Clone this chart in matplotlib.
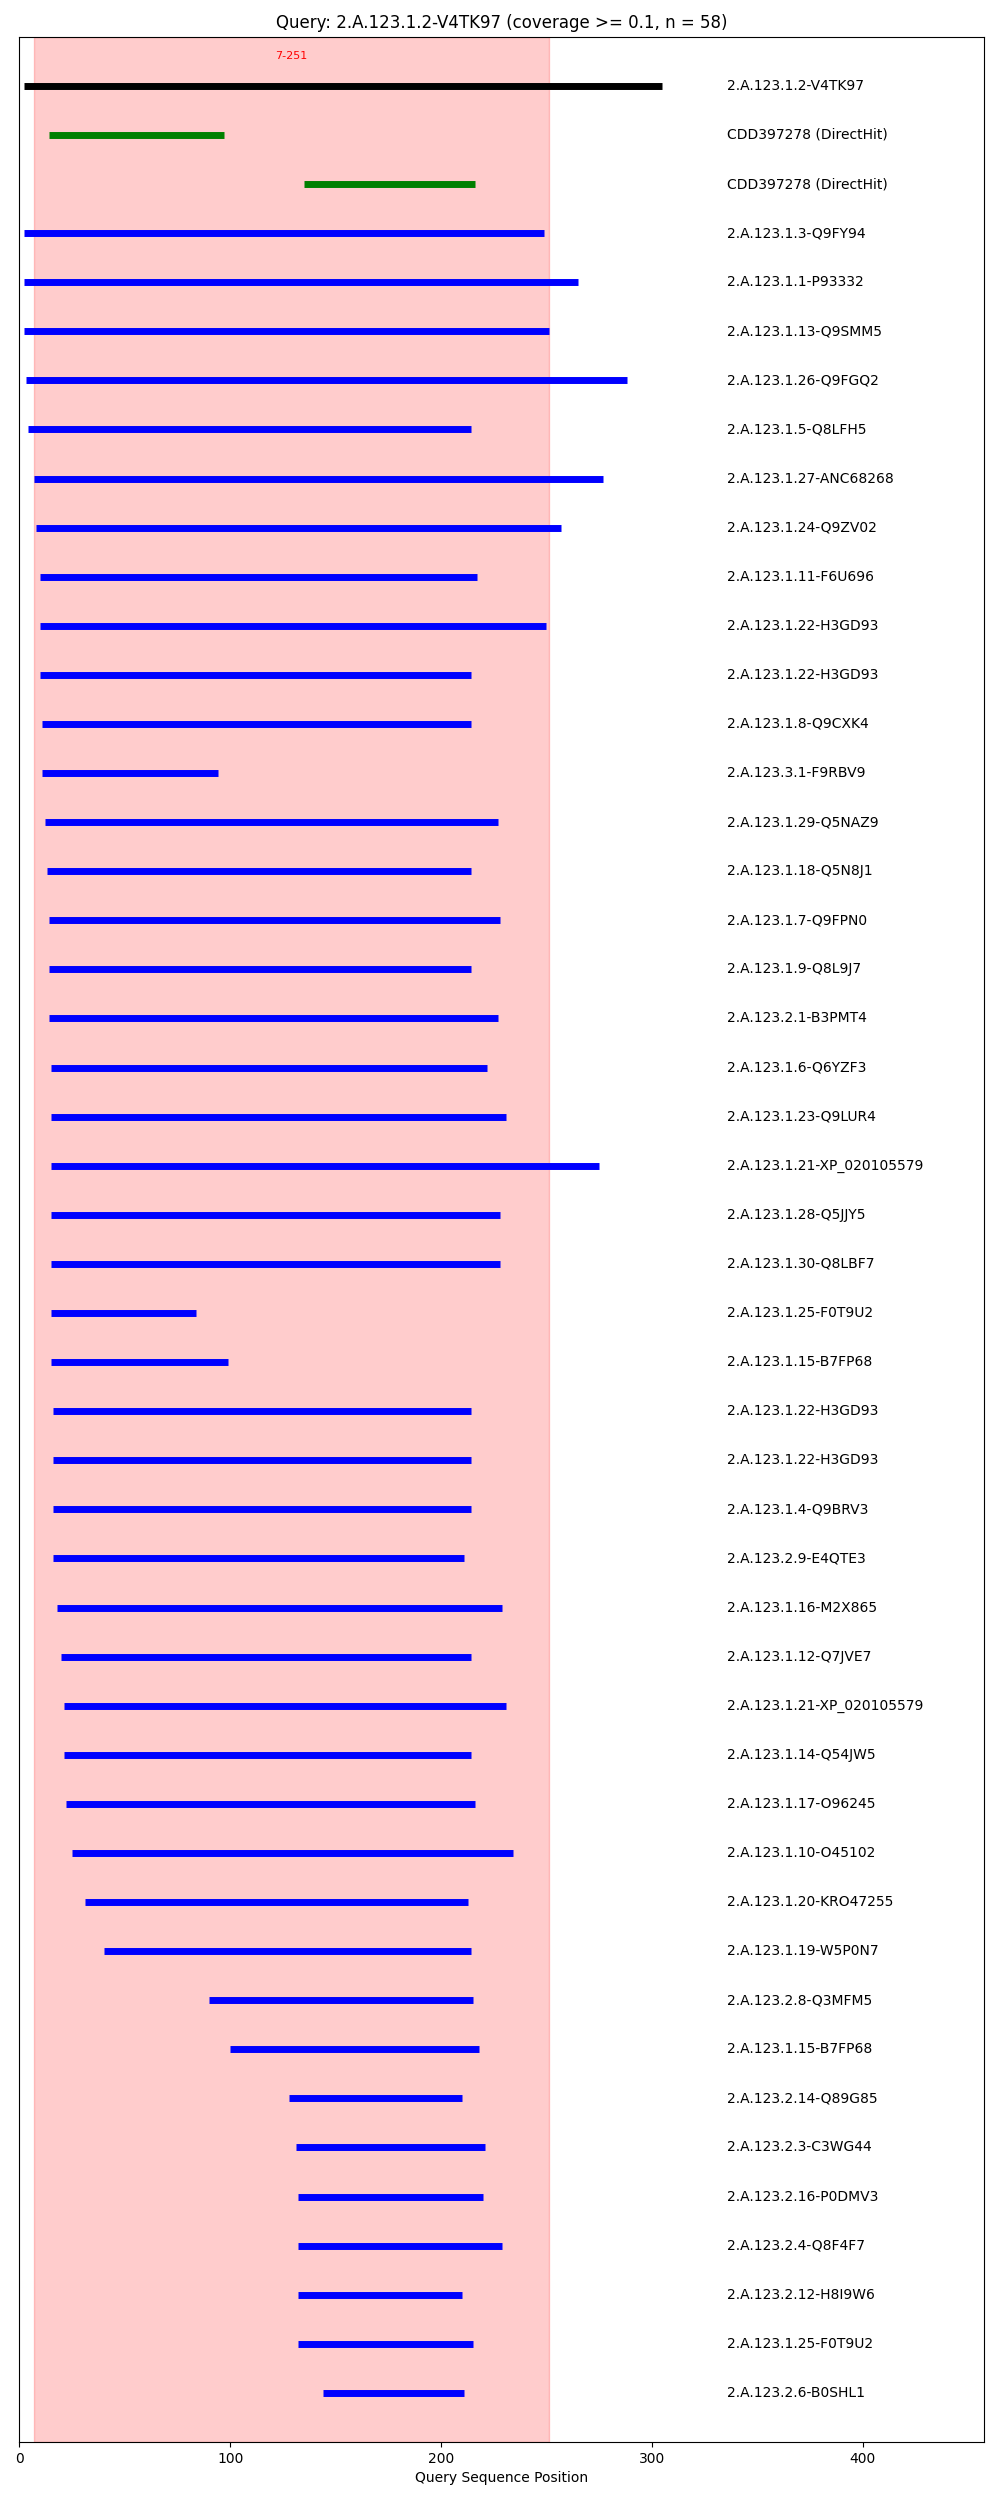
import matplotlib
matplotlib.use("Agg")
import matplotlib.pyplot as plt

# Dane
query_name = "2.A.123.1.2-V4TK97"
query_len = 305
region_start, region_end = 7, 251

labels = [
    "2.A.123.1.2-V4TK97", "CDD397278 (DirectHit)", "CDD397278 (DirectHit)",
    "2.A.123.1.3-Q9FY94", "2.A.123.1.1-P93332", "2.A.123.1.13-Q9SMM5",
    "2.A.123.1.26-Q9FGQ2", "2.A.123.1.5-Q8LFH5", "2.A.123.1.27-ANC68268",
    "2.A.123.1.24-Q9ZV02", "2.A.123.1.11-F6U696", "2.A.123.1.22-H3GD93",
    "2.A.123.1.22-H3GD93", "2.A.123.1.8-Q9CXK4", "2.A.123.3.1-F9RBV9",
    "2.A.123.1.29-Q5NAZ9", "2.A.123.1.18-Q5N8J1", "2.A.123.1.7-Q9FPN0",
    "2.A.123.1.9-Q8L9J7", "2.A.123.2.1-B3PMT4", "2.A.123.1.6-Q6YZF3",
    "2.A.123.1.23-Q9LUR4", "2.A.123.1.21-XP_020105579", "2.A.123.1.28-Q5JJY5",
    "2.A.123.1.30-Q8LBF7", "2.A.123.1.25-F0T9U2", "2.A.123.1.15-B7FP68",
    "2.A.123.1.22-H3GD93", "2.A.123.1.22-H3GD93", "2.A.123.1.4-Q9BRV3",
    "2.A.123.2.9-E4QTE3", "2.A.123.1.16-M2X865", "2.A.123.1.12-Q7JVE7",
    "2.A.123.1.21-XP_020105579", "2.A.123.1.14-Q54JW5", "2.A.123.1.17-O96245",
    "2.A.123.1.10-O45102", "2.A.123.1.20-KRO47255", "2.A.123.1.19-W5P0N7",
    "2.A.123.2.8-Q3MFM5", "2.A.123.1.15-B7FP68", "2.A.123.2.14-Q89G85",
    "2.A.123.2.3-C3WG44", "2.A.123.2.16-P0DMV3", "2.A.123.2.4-Q8F4F7",
    "2.A.123.2.12-H8I9W6", "2.A.123.1.25-F0T9U2", "2.A.123.2.6-B0SHL1",
]

starts = [2, 14, 135, 2, 2, 2, 3, 4, 7, 8, 10, 10, 10, 11, 11, 12, 13, 14,
          14, 14, 15, 15, 15, 15, 15, 15, 15, 16, 16, 16, 16, 18, 20, 21, 21,
          22, 25, 31, 40, 90, 100, 128, 131, 132, 132, 132, 132, 144]
ends = [305, 97, 216, 249, 265, 251, 288, 214, 277, 257, 217, 250, 214, 214,
        94, 227, 214, 228, 214, 227, 222, 231, 275, 228, 228, 84, 99, 214, 214,
        214, 211, 229, 214, 231, 214, 216, 234, 213, 214, 215, 218, 210, 221,
        220, 229, 210, 215, 211]

# typ trafienia: query / cdd / tcdb
hit_types = ["query", "cdd", "cdd"] + ["tcdb"] * (len(labels) - 3)

type_colors = {"query": "black", "cdd": "green", "tcdb": "blue"}

fig, ax = plt.subplots(figsize=(10, 25), dpi=100)
fig.subplots_adjust(left=0.0193, right=0.984, top=0.9853, bottom=0.0232)

ax.axvspan(region_start, region_end, color="red", alpha=0.2)
ax.text((region_start + region_end) / 2, -0.5, f"{region_start}-{region_end}",
        color="red", fontsize=8, ha="center", va="bottom")

for i, (lab, s, e, t) in enumerate(zip(labels, starts, ends, hit_types)):
    ax.hlines(i, s, e, colors=type_colors[t], linewidth=5, capstyle="butt")
    ax.text(query_len * 1.1, i, lab, fontsize=10, ha="left", va="center")

ax.set_xlim(0, query_len * 1.5)
ax.set_ylim(len(labels), -1)
ax.set_yticks([])
ax.set_xlabel("Query Sequence Position")
ax.set_title(f"Query: {query_name} (coverage >= 0.1, n = 58)")

fig.savefig("out.png", dpi=100)
